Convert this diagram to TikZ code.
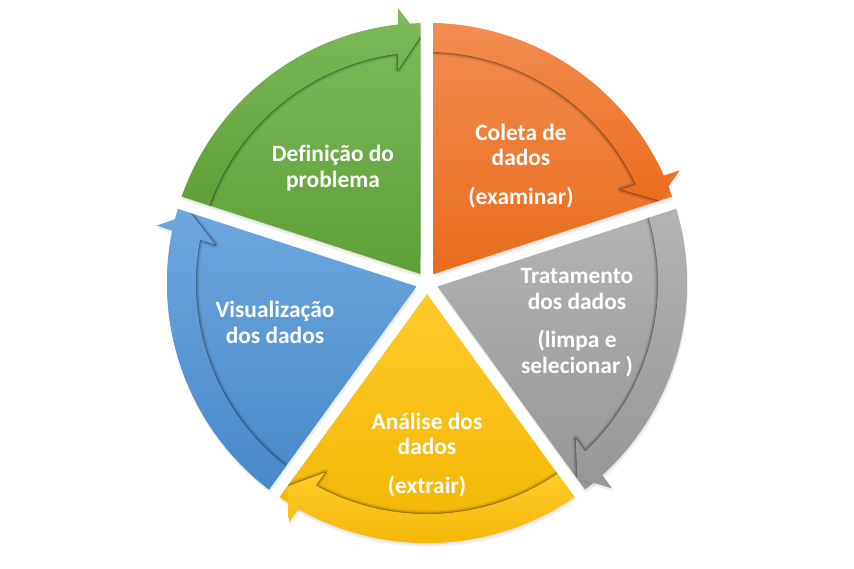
\documentclass[tikz,border=0pt]{standalone}
\usepackage{fontspec}
\setmainfont{Carlito}[Ligatures=NoCommon]
\definecolor{gT}{HTML}{7CBA5B}
\definecolor{gB}{HTML}{5E9F36}
\definecolor{oT}{HTML}{F28D52}
\definecolor{oB}{HTML}{E96C1C}
\definecolor{rT}{HTML}{B4B4B4}
\definecolor{rB}{HTML}{969696}
\definecolor{yT}{HTML}{FFCA2A}
\definecolor{yB}{HTML}{F1B500}
\definecolor{bT}{HTML}{6CA7DE}
\definecolor{bB}{HTML}{4889CA}
\tikzset{
  lbl/.style={text=white, font=\fontsize{23.4}{25.5}\selectfont\bfseries, align=center, inner sep=0pt},
  shadowline/.style={black, line join=round, line cap=butt},
}
\begin{document}
\begin{tikzpicture}
\useasboundingbox (-427pt,-286pt) rectangle (427pt,283pt);
\foreach \s/\ct/\cb in {162/gT/gB, 90/oT/oB, 18/rT/rB, -54/yT/yB, 234/bT/bB} {
  \pgfmathsetmacro\e{\s-72}
  \pgfmathsetmacro\m{\s-36}
  \pgfmathsetmacro\sa{\s-1.43}
  \pgfmathsetmacro\ea{\e+1.43}
  \pgfmathsetmacro\sb{\s-1.61}
  \pgfmathsetmacro\eo{\e+6.4}
  \pgfmathsetmacro\ei{\e+7.2}
  \pgfmathsetmacro\bo{\e+6.02}
  \pgfmathsetmacro\bi{\e+7.76}
  \pgfmathsetmacro\et{\e+1.63}
  % soft shadow of the wedge
  \fill[black, opacity=.05, xshift=1pt, yshift=-4pt] (\m:11.06pt) -- (\sa:260pt) arc[start angle=\sa, end angle=\ea, radius=260pt] -- cycle;
  \fill[black, opacity=.05, xshift=0.5pt, yshift=-2pt] (\m:11.06pt) -- (\sa:260pt) arc[start angle=\sa, end angle=\ea, radius=260pt] -- cycle;
  % wedge
  \shade[top color=\ct, bottom color=\cb] (\m:11.06pt) -- (\sa:260pt) arc[start angle=\sa, end angle=\ea, radius=260pt] -- cycle;
  % soft shadow of the arrow on the wedge
  \begin{scope}
    \clip (\m:11.06pt) -- (\sa:260pt) arc[start angle=\sa, end angle=\ea, radius=260pt] -- cycle;
    \foreach \w/\op in {7/.06, 4.5/.09, 2.6/.14, 1.2/.22}
      \draw[shadowline, opacity=\op, line width=\w pt] (\sb:231pt) arc[start angle=\sb, end angle=\ei, radius=231pt] -- (\bi:215pt) -- (\et:246pt);
  \end{scope}
  \fill[black, opacity=.06, xshift=1pt, yshift=-3pt] (\eo:260pt) -- (\bo:276.5pt) -- (\et:246pt) -- cycle;
  % arrow
  \shade[top color=\ct, bottom color=\cb] (\sa:260pt) arc[start angle=\sa, end angle=\eo, radius=260pt] -- (\bo:276.5pt) -- (\et:246pt) -- (\bi:215pt) -- (\ei:231pt) arc[start angle=\ei, end angle=\sb, radius=231pt] -- cycle;
}
\node[lbl] (t1) at (-94pt,115pt) {Definição do\\problema};
\node[lbl] (t2) at (94pt,117pt) {Coleta de\\dados\\[13pt](examinar)};
\node[lbl] (t3) at (150pt,-39.5pt) {Tratamento\\dos dados\\[13pt](limpa e\\selecionar )};
\node[lbl] (t4) at (0pt,-172pt) {Análise dos\\dados\\[13pt](extrair)};
\node[lbl] (t5) at (-152pt,-39.5pt) {Visualização\\dos dados};
\end{tikzpicture}
\end{document}
